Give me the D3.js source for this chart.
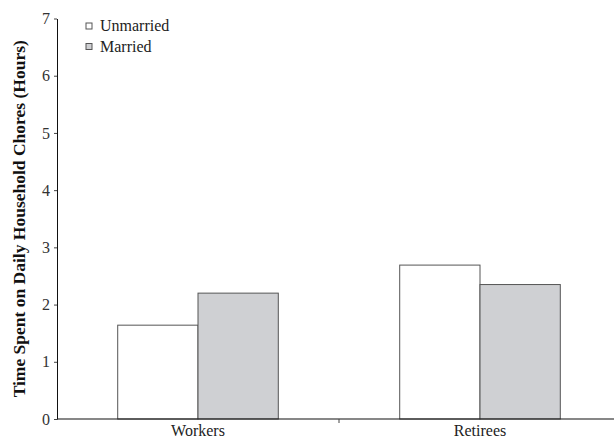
<!DOCTYPE html>
<html>
<head>
<meta charset="utf-8">
<script src="https://cdn.jsdelivr.net/npm/d3@7"></script>
<style>
  body { margin: 0; background: #fff; }
</style>
</head>
<body>
<svg class="chart"></svg>
<script>
const groups = ["Workers", "Retirees"];
const seriesNames = ["Unmarried", "Married"];
const unmarried = [1.64, 2.69];
const married = [2.20, 2.35];
const yTicks = [0, 1, 2, 3, 4, 5, 6, 7];
const colors = ["#ffffff", "#cfd0d3"];

const FONT = '"Liberation Serif", "Times New Roman", Times, "DejaVu Serif", serif';

const WIDTH = 614, HEIGHT = 438;
const margins = { top: 18.5, right: -7, bottom: 19, left: 57 };

const svg = d3.select('.chart')
    .attr('width', WIDTH)
    .attr('height', HEIGHT)
    .style('font-family', FONT);

const innerW = WIDTH - margins.left - margins.right;
const innerH = HEIGHT - margins.top - margins.bottom;

const g = svg.append('g')
    .attr('transform', 'translate(' + margins.left + ',' + margins.top + ')');

const x0 = d3.scaleBand().domain(groups).range([0, innerW]).padding(0);
const x1 = d3.scaleBand().domain(seriesNames).range([0, x0.bandwidth()])
    .paddingInner(0).paddingOuter(0.756);
const y = d3.scaleLinear().domain([0, 7]).range([innerH, 0]);

const rows = groups.map((grp, i) => ({
    group: grp,
    values: [
        { key: seriesNames[0], value: unmarried[i] },
        { key: seriesNames[1], value: married[i] }
    ]
}));

// bars
g.selectAll('.grp')
    .data(rows)
    .enter()
    .append('g')
    .attr('transform', d => 'translate(' + x0(d.group) + ',0)')
    .selectAll('rect')
    .data(d => d.values)
    .enter()
    .append('rect')
    .attr('x', d => x1(d.key))
    .attr('y', d => y(d.value))
    .attr('width', x1.bandwidth())
    .attr('height', d => innerH - y(d.value))
    .attr('fill', (d, i) => colors[i])
    .attr('stroke', '#555')
    .attr('stroke-width', 1);

// y axis
const yAxis = g.append('g')
    .call(d3.axisLeft(y).tickValues(yTicks).tickSize(3).tickSizeOuter(0).tickFormat(d3.format('d')));
yAxis.attr('font-family', null);
yAxis.select('.domain').attr('stroke', '#111');
yAxis.selectAll('.tick line').attr('stroke', '#444');
yAxis.selectAll('text')
    .style('font-family', FONT)
    .style('font-size', '16px')
    .attr('x', -7)
    .attr('fill', '#333');

// x axis with a tick between the groups
const xAxis = g.append('g')
    .attr('transform', 'translate(0,' + innerH + ')');
xAxis.append('line')
    .attr('x1', 0).attr('x2', innerW)
    .attr('stroke', '#111').attr('stroke-width', 1.2);
xAxis.selectAll('.sep')
    .data(groups.slice(1))
    .enter()
    .append('line')
    .attr('x1', d => x0(d)).attr('x2', d => x0(d))
    .attr('y1', 0).attr('y2', 4)
    .attr('stroke', '#444');
xAxis.selectAll('.cat')
    .data(groups)
    .enter()
    .append('text')
    .attr('x', d => x0(d) + x0.bandwidth() / 2)
    .attr('y', 16.5)
    .attr('text-anchor', 'middle')
    .style('font-family', FONT)
    .style('font-size', '16px')
    .attr('fill', '#222')
    .text(d => d);

// y label
svg.append('text')
    .attr('transform', 'translate(25,' + (margins.top + innerH / 2) + ') rotate(-90)')
    .attr('text-anchor', 'middle')
    .style('font-family', FONT)
    .style('font-size', '17.5px')
    .style('font-weight', 'bold')
    .attr('fill', '#111')
    .text('Time Spent on Daily Household Chores (Hours)');

// legend
const legend = svg.append('g').attr('transform', 'translate(86,26)');
const item = legend.selectAll('.item')
    .data(seriesNames)
    .enter()
    .append('g')
    .attr('transform', (d, i) => 'translate(0,' + i * 20.5 + ')');
item.append('rect')
    .attr('x', 0).attr('y', -3)
    .attr('width', 6).attr('height', 6)
    .attr('fill', (d, i) => colors[i])
    .attr('stroke', '#555');
item.append('text')
    .attr('x', 14).attr('y', 5)
    .style('font-family', FONT)
    .style('font-size', '16px')
    .attr('fill', '#222')
    .text(d => d);
</script>
</body>
</html>
